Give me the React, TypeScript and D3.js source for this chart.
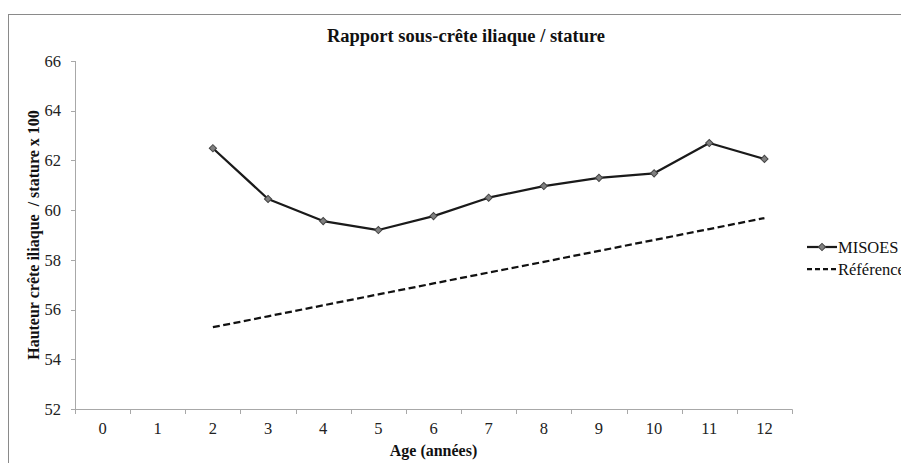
import React from 'react';
import * as d3 from 'd3';

const categories = ['0', '1', '2', '3', '4', '5', '6', '7', '8', '9', '10', '11', '12'];
const seriesAges = ['2', '3', '4', '5', '6', '7', '8', '9', '10', '11', '12'];
const misoesValues = [62.49, 60.45, 59.56, 59.2, 59.76, 60.5, 60.97, 61.3, 61.48, 62.7, 62.06];
const referenceValues = [55.29, 55.73, 56.17, 56.61, 57.05, 57.49, 57.92, 58.36, 58.8, 59.24, 59.68];
const yTicks = [52, 54, 56, 58, 60, 62, 64, 66];
const seriesNames = ['MISOES', 'Référence'];
const title = 'Rapport sous-crête iliaque / stature';
const xTitle = 'Age (années)';
const yTitle = 'Hauteur crête iliaque  / stature x 100';

const W = 901;
const H = 463;
const FONT = '"Liberation Serif", "Times New Roman", "DejaVu Serif", serif';

export default function App() {
  const x = d3.scaleBand<string>().domain(categories).range([75, 792]).paddingInner(0).paddingOuter(0);
  const y = d3.scaleLinear().domain([52, 66]).range([409, 61]);
  const cx = (c: string) => (x(c) as number) + x.bandwidth() / 2;

  const line = d3
    .line<number>()
    .x((_, i) => cx(seriesAges[i]))
    .y((d) => y(d));

  const diamond = d3.symbol(d3.symbolSquare, 26)() as string;
  const axisColor = '#a8a8a8';
  const tickBounds = [...categories.map((c) => x(c) as number), 792];

  const legendX = 807;
  const legendY = [247, 269];
  const txt = { fontFamily: FONT };

  return (
    <svg
      width={W}
      height={H}
      style={{ position: 'absolute', left: 0, top: 0, background: '#fff', fontFamily: FONT }}
    >
      <rect x={8.5} y={14.5} width={1200} height={1200} fill="#fff" stroke="#8a8a8a" strokeWidth={1} />
      <text x={466} y={42} textAnchor="middle" fontSize={18.5} fontWeight="bold" fill="#111" style={txt}>
        {title}
      </text>

      {/* Y axis */}
      <line x1={75.5} x2={75.5} y1={y(66)} y2={y(52)} stroke={axisColor} />
      {yTicks.map((t) => (
        <g key={t}>
          <line x1={71} x2={75.5} y1={Math.round(y(t)) + 0.5} y2={Math.round(y(t)) + 0.5} stroke={axisColor} />
          <text x={61} y={y(t)} dy="0.35em" textAnchor="end" fontSize={16.5} fill="#222" style={txt}>
            {t}
          </text>
        </g>
      ))}

      {/* X axis */}
      <line x1={75} x2={792.5} y1={409.5} y2={409.5} stroke={axisColor} />
      {tickBounds.map((b, i) => (
        <line key={i} x1={Math.round(b) + 0.5} x2={Math.round(b) + 0.5} y1={409.5} y2={414} stroke={axisColor} />
      ))}
      {categories.map((c) => (
        <text key={c} x={cx(c)} y={433.5} textAnchor="middle" fontSize={16.5} fill="#222" style={txt}>
          {c}
        </text>
      ))}

      <text x={433.5} y={456} textAnchor="middle" fontSize={16} fontWeight="bold" fill="#111" style={txt}>
        {xTitle}
      </text>
      <text
        transform={`translate(39, ${(y(66) + y(52)) / 2}) rotate(-90)`}
        textAnchor="middle"
        fontSize={16}
        fontWeight="bold"
        fill="#111"
        style={{ fontFamily: FONT, whiteSpace: 'pre' }}
      >
        {yTitle}
      </text>

      {/* Reference dashed */}
      <path d={line(referenceValues) as string} fill="none" stroke="#111" strokeWidth={2.25} strokeDasharray="7,3.5" />

      {/* MISOES */}
      <path d={line(misoesValues) as string} fill="none" stroke="#1a1a1a" strokeWidth={2.25} strokeLinejoin="round" />
      {misoesValues.map((v, i) => (
        <path
          key={i}
          d={diamond}
          transform={`translate(${cx(seriesAges[i])}, ${y(v)}) rotate(45)`}
          fill="#808080"
          stroke="#444"
          strokeWidth={1}
        />
      ))}

      {/* Legend */}
      <line x1={legendX} x2={legendX + 30} y1={legendY[0]} y2={legendY[0]} stroke="#1a1a1a" strokeWidth={2.25} />
      <path d={diamond} transform={`translate(${legendX + 15}, ${legendY[0]}) rotate(45)`} fill="#808080" stroke="#444" />
      <text x={legendX + 31} y={legendY[0]} dy="0.35em" fontSize={16.5} fill="#111" style={txt}>
        {seriesNames[0]}
      </text>
      <line
        x1={legendX}
        x2={legendX + 30}
        y1={legendY[1]}
        y2={legendY[1]}
        stroke="#111"
        strokeWidth={2.25}
        strokeDasharray="5,3"
      />
      <text x={legendX + 31} y={legendY[1]} dy="0.35em" fontSize={16.5} fill="#111" style={txt}>
        {seriesNames[1]}
      </text>
    </svg>
  );
}
